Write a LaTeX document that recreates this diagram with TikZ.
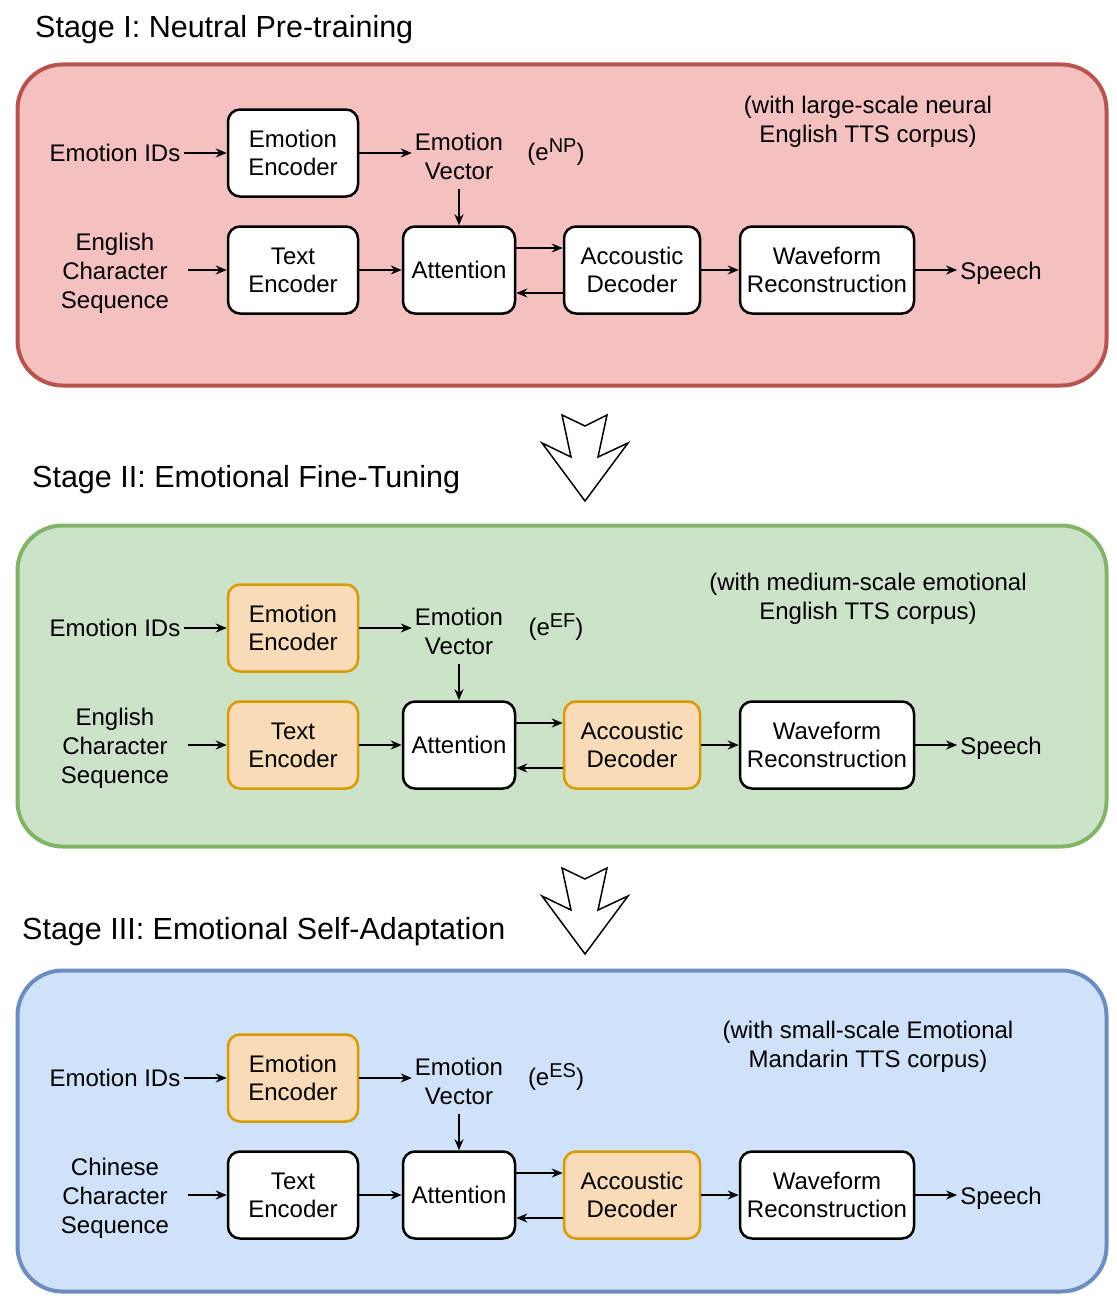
\documentclass[tikz,border=0pt]{standalone}
\usepackage{fontspec}
\setmainfont{Liberation Sans}
\usepackage{xcolor}
\usepackage{tikz}
\usetikzlibrary{arrows.meta}

\definecolor{redfill}{HTML}{F5C1C0}
\definecolor{redline}{HTML}{B85450}
\definecolor{greenfill}{HTML}{CCE2C9}
\definecolor{greenline}{HTML}{82B366}
\definecolor{bluefill}{HTML}{D0E2F9}
\definecolor{blueline}{HTML}{6C8EBF}
\definecolor{tunedfill}{HTML}{FADBB8}
\definecolor{tunedline}{HTML}{D79B00}

\newcommand{\embsup}[1]{\raisebox{8pt}{\fontsize{20}{20}\selectfont #1}}

\begin{document}
\begin{tikzpicture}[x=1pt, y=-1pt,
  block/.style={draw=black, line width=2.5pt, fill=white, rounded corners=12pt, align=center,
    minimum width=130pt, minimum height=87pt, inner sep=2pt, font=\fontsize{24}{28}\selectfont},
  tuned/.style={block, draw=tunedline, fill=tunedfill},
  plain/.style={align=center, inner sep=3pt, font=\fontsize{24}{29}\selectfont},
  stagetitle/.style={anchor=west, inner sep=0pt, font=\fontsize{30.5}{35}\selectfont},
  flow/.style={-{Stealth[length=11pt, width=9pt]}, line width=1.8pt},
  panel/.style={line width=4pt, rounded corners=45pt, minimum width=1089pt, minimum height=321pt},
  hollow/.style={draw=black, line width=1.5pt, fill=white, line join=miter}]
\useasboundingbox (0,0) rectangle (1116,1306);

% Stage I
\node[stagetitle] (stage_1) at (35,30) {Stage I: Neutral Pre-training};
\node[panel, draw=redline, fill=redfill] (panel_1) at (562,225) {};
\node[plain] (corpus_1) at (868,122) {(with large-scale neural\\English TTS corpus)};
\node[plain] (emo_ids_1) at (115,153) {Emotion IDs};
\node[block] (emo_enc_1) at (293,153) {Emotion\\Encoder};
\node[plain] (emo_vec_1) at (459,156) {Emotion\\Vector};
\node[plain] (emb_1) at (556,152) {(e\embsup{NP})};
\node[plain] (char_seq_1) at (115,273) {English\\Character\\Sequence};
\node[block] (text_enc_1) at (293,270) {Text\\Encoder};
\node[block, minimum width=112pt] (attention_1) at (459,270) {Attention};
\node[block, minimum width=136pt] (decoder_1) at (632,270) {Accoustic\\Decoder};
\node[block, minimum width=174pt] (waveform_1) at (827,270) {Waveform\\Reconstruction};
\node[plain] (speech_1) at (1001,273) {Speech};

\draw[flow] (emo_ids_1) -- (emo_enc_1);
\draw[flow] (emo_enc_1.east) -- (emo_enc_1.east -| emo_vec_1.west);
\draw[flow, shorten <=6pt] (emo_vec_1) -- (attention_1);
\draw[flow, shorten <=16pt] (char_seq_1.east |- text_enc_1.west) -- (text_enc_1.west);
\draw[flow] (text_enc_1) -- (attention_1);
\draw[flow] ([yshift=22pt]attention_1.east) -- ([yshift=22pt]decoder_1.west);
\draw[flow] ([yshift=-23pt]decoder_1.west) -- ([yshift=-23pt]attention_1.east);
\draw[flow] (decoder_1) -- (waveform_1);
\draw[flow] (waveform_1.east) -- (waveform_1.east -| speech_1.west);

\draw[hollow, shift={(585,413)}] (-23,2) -- (0,13) -- (22,2) -- (13,44) -- (43,30)
  -- (0,88) -- (-43,30) -- (-14,44) -- cycle;

% Stage II
\node[stagetitle] (stage_2) at (32,480) {Stage II: Emotional Fine-Tuning};
\node[panel, draw=greenline, fill=greenfill] (panel_2) at (562,686) {};
\node[plain] (corpus_2) at (868,599) {(with medium-scale emotional\\English TTS corpus)};
\node[plain] (emo_ids_2) at (115,628) {Emotion IDs};
\node[tuned] (emo_enc_2) at (293,628) {Emotion\\Encoder};
\node[plain] (emo_vec_2) at (459,631) {Emotion\\Vector};
\node[plain] (emb_2) at (556,627) {(e\embsup{EF})};
\node[plain] (char_seq_2) at (115,748) {English\\Character\\Sequence};
\node[tuned] (text_enc_2) at (293,745) {Text\\Encoder};
\node[block, minimum width=112pt] (attention_2) at (459,745) {Attention};
\node[tuned, minimum width=136pt] (decoder_2) at (632,745) {Accoustic\\Decoder};
\node[block, minimum width=174pt] (waveform_2) at (827,745) {Waveform\\Reconstruction};
\node[plain] (speech_2) at (1001,748) {Speech};

\draw[flow] (emo_ids_2) -- (emo_enc_2);
\draw[flow] (emo_enc_2.east) -- (emo_enc_2.east -| emo_vec_2.west);
\draw[flow, shorten <=6pt] (emo_vec_2) -- (attention_2);
\draw[flow, shorten <=16pt] (char_seq_2.east |- text_enc_2.west) -- (text_enc_2.west);
\draw[flow] (text_enc_2) -- (attention_2);
\draw[flow] ([yshift=22pt]attention_2.east) -- ([yshift=22pt]decoder_2.west);
\draw[flow] ([yshift=-23pt]decoder_2.west) -- ([yshift=-23pt]attention_2.east);
\draw[flow] (decoder_2) -- (waveform_2);
\draw[flow] (waveform_2.east) -- (waveform_2.east -| speech_2.west);

\draw[hollow, shift={(585,866)}] (-23,2) -- (0,13) -- (22,2) -- (13,44) -- (43,30)
  -- (0,88) -- (-43,30) -- (-14,44) -- cycle;

% Stage III
\node[stagetitle] (stage_3) at (22,932) {Stage III: Emotional Self-Adaptation};
\node[panel, draw=blueline, fill=bluefill] (panel_3) at (562,1131) {};
\node[plain] (corpus_3) at (868,1047) {(with small-scale Emotional\\Mandarin TTS corpus)};
\node[plain] (emo_ids_3) at (115,1078) {Emotion IDs};
\node[tuned] (emo_enc_3) at (293,1078) {Emotion\\Encoder};
\node[plain] (emo_vec_3) at (459,1081) {Emotion\\Vector};
\node[plain] (emb_3) at (556,1077) {(e\embsup{ES})};
\node[plain] (char_seq_3) at (115,1198) {Chinese\\Character\\Sequence};
\node[block] (text_enc_3) at (293,1195) {Text\\Encoder};
\node[block, minimum width=112pt] (attention_3) at (459,1195) {Attention};
\node[tuned, minimum width=136pt] (decoder_3) at (632,1195) {Accoustic\\Decoder};
\node[block, minimum width=174pt] (waveform_3) at (827,1195) {Waveform\\Reconstruction};
\node[plain] (speech_3) at (1001,1198) {Speech};

\draw[flow] (emo_ids_3) -- (emo_enc_3);
\draw[flow] (emo_enc_3.east) -- (emo_enc_3.east -| emo_vec_3.west);
\draw[flow, shorten <=6pt] (emo_vec_3) -- (attention_3);
\draw[flow, shorten <=16pt] (char_seq_3.east |- text_enc_3.west) -- (text_enc_3.west);
\draw[flow] (text_enc_3) -- (attention_3);
\draw[flow] ([yshift=22pt]attention_3.east) -- ([yshift=22pt]decoder_3.west);
\draw[flow] ([yshift=-23pt]decoder_3.west) -- ([yshift=-23pt]attention_3.east);
\draw[flow] (decoder_3) -- (waveform_3);
\draw[flow] (waveform_3.east) -- (waveform_3.east -| speech_3.west);

\end{tikzpicture}
\end{document}
